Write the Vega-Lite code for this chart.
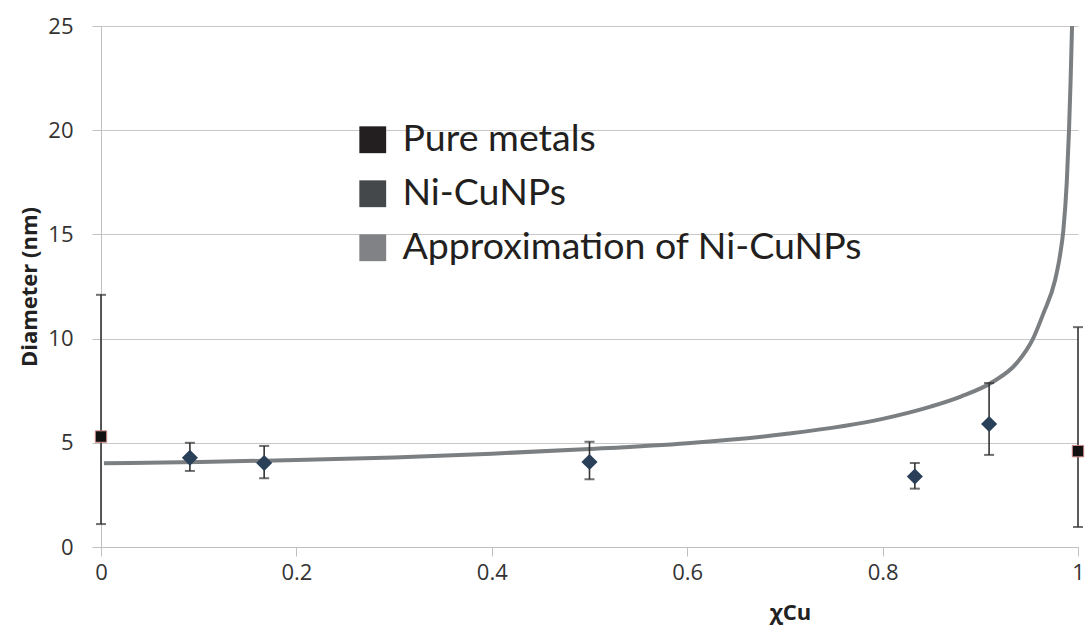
{
  "$schema": "https://vega.github.io/schema/vega-lite/v6.json",
  "autosize": {"type": "none"},
  "width": 977,
  "height": 521,
  "padding": {"left": 101, "top": 26, "right": 10, "bottom": 85},
  "background": "white",
  "config": {
    "view": {"stroke": null},
    "font": "Open Sans",
    "axis": {
      "labelFont": "Open Sans",
      "labelFontSize": 22,
      "labelColor": "#333333",
      "titleFont": "Open Sans",
      "titleFontWeight": "bold",
      "titleFontSize": 22,
      "titleColor": "#222222",
      "domainColor": "#c0c0c0",
      "tickColor": "#c0c0c0",
      "gridColor": "#c8c8c8",
      "tickSize": 9
    }
  },
  "datasets": {
    "pts": [
      {"x": 0, "y": 5.3, "lo": 1.1, "hi": 12.1, "series": "Pure metals"},
      {"x": 1, "y": 4.6, "lo": 0.96, "hi": 10.55, "series": "Pure metals"},
      {"x": 0.091, "y": 4.28, "lo": 3.65, "hi": 5.0, "series": "Ni-CuNPs"},
      {"x": 0.167, "y": 4.03, "lo": 3.3, "hi": 4.85, "series": "Ni-CuNPs"},
      {"x": 0.5, "y": 4.08, "lo": 3.25, "hi": 5.05, "series": "Ni-CuNPs"},
      {"x": 0.833, "y": 3.38, "lo": 2.8, "hi": 4.03, "series": "Ni-CuNPs"},
      {"x": 0.909, "y": 5.9, "lo": 4.42, "hi": 7.87, "series": "Ni-CuNPs"}
    ],
    "curve": [
      {"x": 0.003, "y": 4.02},
      {"x": 0.1, "y": 4.08},
      {"x": 0.2, "y": 4.17},
      {"x": 0.3, "y": 4.3},
      {"x": 0.4, "y": 4.48},
      {"x": 0.5, "y": 4.7},
      {"x": 0.6, "y": 4.98},
      {"x": 0.7, "y": 5.42},
      {"x": 0.8, "y": 6.15},
      {"x": 0.85, "y": 6.75},
      {"x": 0.88, "y": 7.22},
      {"x": 0.913, "y": 7.93},
      {"x": 0.937, "y": 8.81},
      {"x": 0.954, "y": 10.0},
      {"x": 0.9645, "y": 11.2},
      {"x": 0.9765, "y": 12.8},
      {"x": 0.9816, "y": 14.0},
      {"x": 0.985, "y": 15.2},
      {"x": 0.9885, "y": 17.5},
      {"x": 0.9908, "y": 20},
      {"x": 0.9925, "y": 22.5},
      {"x": 0.9939, "y": 25}
    ],
    "legendrows": [
      {"series": "Pure metals"},
      {"series": "Ni-CuNPs"},
      {"series": "Approximation of Ni-CuNPs"}
    ]
  },
  "layer": [
    {
      "data": {"name": "curve"},
      "mark": {"type": "line", "color": "#7b7f82", "strokeWidth": 4, "interpolate": "monotone"},
      "encoding": {
        "x": {
          "field": "x", "type": "quantitative",
          "scale": {"domain": [0, 1], "nice": false},
          "axis": {"title": "χCu", "format": "~g", "values": [0, 0.2, 0.4, 0.6, 0.8, 1], "grid": false, "labelPadding": 6, "labelOverlap": false, "labelFlush": false, "labelBound": false, "titleX": 689, "titleY": 55, "titleBaseline": "top"}
        },
        "y": {
          "field": "y", "type": "quantitative",
          "scale": {"domain": [0, 25], "nice": false},
          "axis": {"title": "Diameter (nm)", "values": [0, 5, 10, 15, 20, 25], "grid": true, "labelPadding": 19, "titlePadding": 6, "labelOverlap": false}
        }
      }
    },
    {
      "data": {"name": "pts"},
      "mark": {"type": "rule", "color": "#333333", "strokeWidth": 1.6},
      "encoding": {
        "x": {"field": "x", "type": "quantitative"},
        "y": {"field": "lo", "type": "quantitative"},
        "y2": {"field": "hi"}
      }
    },
    {
      "data": {"name": "pts"},
      "mark": {"type": "tick", "orient": "horizontal", "color": "#333333", "size": 10, "thickness": 2},
      "encoding": {
        "x": {"field": "x", "type": "quantitative"},
        "y": {"field": "lo", "type": "quantitative"}
      }
    },
    {
      "data": {"name": "pts"},
      "mark": {"type": "tick", "orient": "horizontal", "color": "#333333", "size": 10, "thickness": 2},
      "encoding": {
        "x": {"field": "x", "type": "quantitative"},
        "y": {"field": "hi", "type": "quantitative"}
      }
    },
    {
      "data": {"name": "pts"},
      "transform": [{"filter": "datum.series === 'Ni-CuNPs'"}],
      "mark": {"type": "point", "shape": "diamond", "filled": true, "color": "#2a3f58", "size": 260, "opacity": 1},
      "encoding": {
        "x": {"field": "x", "type": "quantitative"},
        "y": {"field": "y", "type": "quantitative"}
      }
    },
    {
      "data": {"name": "pts"},
      "transform": [{"filter": "datum.series === 'Pure metals'"}],
      "mark": {"type": "square", "filled": true, "color": "#111111", "stroke": "#d08a8a", "strokeWidth": 1, "size": 130, "opacity": 1},
      "encoding": {
        "x": {"field": "x", "type": "quantitative"},
        "y": {"field": "y", "type": "quantitative"}
      }
    },
    {
      "data": {"name": "legendrows"},
      "mark": {"type": "square", "filled": true, "opacity": 0},
      "encoding": {
        "color": {
          "field": "series", "type": "nominal",
          "scale": {"domain": ["Pure metals", "Ni-CuNPs", "Approximation of Ni-CuNPs"], "range": ["#231f20", "#45484b", "#808285"]},
          "legend": {
            "title": null,
            "orient": "none",
            "legendX": 253,
            "legendY": 95,
            "symbolType": "square",
            "symbolSize": 720,
            "symbolOpacity": 1,
            "symbolStrokeWidth": 0,
            "labelFont": "Lato",
            "labelFontSize": 37.5,
            "labelColor": "#231f20",
            "labelOffset": 11,
            "rowPadding": 15,
            "labelLimit": 700
          }
        }
      }
    }
  ]
}
